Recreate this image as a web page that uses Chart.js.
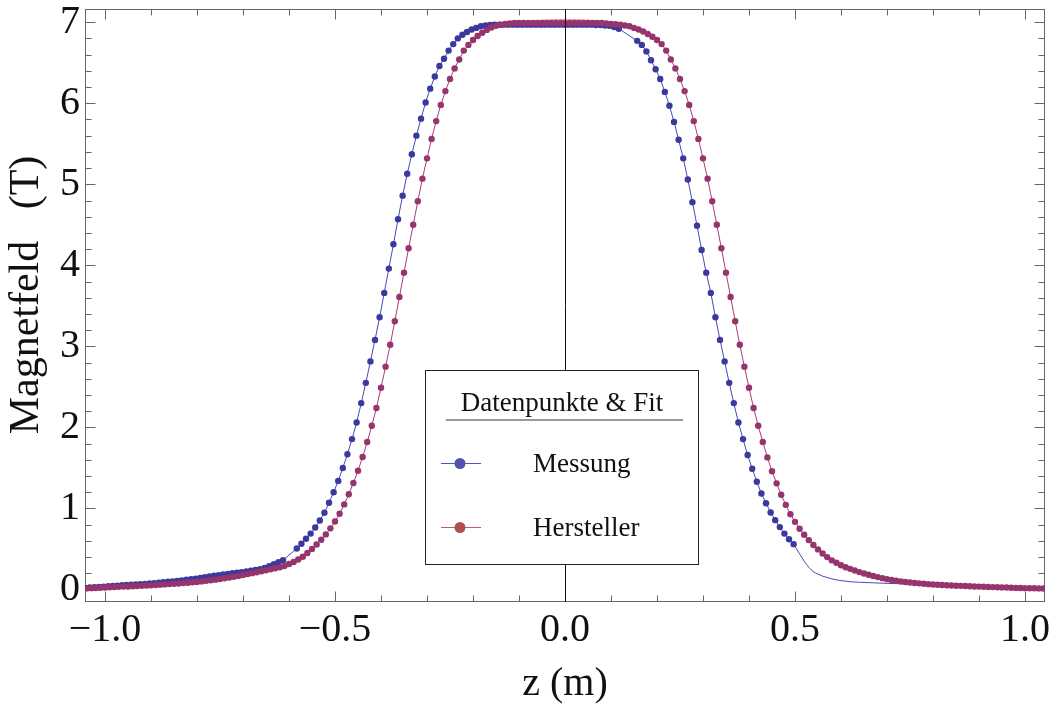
<!DOCTYPE html>
<html>
<head>
<meta charset="utf-8">
<script src="https://cdn.jsdelivr.net/npm/chart.js@4.4.1/dist/chart.umd.min.js"></script>
<style>
  html, body { margin: 0; padding: 0; background: #fff; }
  #chart { display: block; }
</style>
</head>
<body>
<canvas id="chart" width="1052" height="705"></canvas>
<script>
// Hersteller: Datenpunkte alle 1 cm
const herstellerZ = [
  -1.04,-1.03,-1.02,-1.01,-1.00,-0.99,-0.98,-0.97,-0.96,-0.95,
  -0.94,-0.93,-0.92,-0.91,-0.90,-0.89,-0.88,-0.87,-0.86,-0.85,
  -0.84,-0.83,-0.82,-0.81,-0.80,-0.79,-0.78,-0.77,-0.76,-0.75,
  -0.74,-0.73,-0.72,-0.71,-0.70,-0.69,-0.68,-0.67,-0.66,-0.65,
  -0.64,-0.63,-0.62,-0.61,-0.60,-0.59,-0.58,-0.57,-0.56,-0.55,
  -0.54,-0.53,-0.52,-0.51,-0.50,-0.49,-0.48,-0.47,-0.46,-0.45,
  -0.44,-0.43,-0.42,-0.41,-0.40,-0.39,-0.38,-0.37,-0.36,-0.35,
  -0.34,-0.33,-0.32,-0.31,-0.30,-0.29,-0.28,-0.27,-0.26,-0.25,
  -0.24,-0.23,-0.22,-0.21,-0.20,-0.19,-0.18,-0.17,-0.16,-0.15,
  -0.14,-0.13,-0.12,-0.11,-0.10,-0.09,-0.08,-0.07,-0.06,-0.05,
  -0.04,-0.03,-0.02,-0.01,
  0.00,0.01,0.02,0.03,0.04,0.05,0.06,0.07,0.08,0.09,
  0.10,0.11,0.12,0.13,0.14,0.15,0.16,0.17,0.18,0.19,
  0.20,0.21,0.22,0.23,0.24,0.25,0.26,0.27,0.28,0.29,
  0.30,0.31,0.32,0.33,0.34,0.35,0.36,0.37,0.38,0.39,
  0.40,0.41,0.42,0.43,0.44,0.45,0.46,0.47,0.48,0.49,
  0.50,0.51,0.52,0.53,0.54,0.55,0.56,0.57,0.58,0.59,
  0.60,0.61,0.62,0.63,0.64,0.65,0.66,0.67,0.68,0.69,
  0.70,0.71,0.72,0.73,0.74,0.75,0.76,0.77,0.78,0.79,
  0.80,0.81,0.82,0.83,0.84,0.85,0.86,0.87,0.88,0.89,
  0.90,0.91,0.92,0.93,0.94,0.95,0.96,0.97,0.98,0.99,
  1.00,1.01,1.02,1.03,1.04
];
const herstellerB = [
  0.014,0.017,0.019,0.022,0.025,0.028,0.031,0.033,0.036,0.038,
  0.041,0.044,0.047,0.050,0.053,0.056,0.060,0.063,0.067,0.071,
  0.075,0.079,0.084,0.089,0.094,0.100,0.107,0.114,0.122,0.130,
  0.139,0.148,0.158,0.167,0.178,0.190,0.202,0.214,0.226,0.238,
  0.250,0.262,0.275,0.290,0.315,0.340,0.370,0.405,0.450,0.500,
  0.555,0.615,0.680,0.755,0.840,0.935,1.050,1.175,1.315,1.465,
  1.635,1.820,2.020,2.240,2.490,2.750,3.020,3.310,3.610,3.910,
  4.210,4.500,4.790,5.070,5.320,5.560,5.780,5.980,6.150,6.300,
  6.430,6.540,6.650,6.720,6.780,6.830,6.870,6.905,6.935,6.955,
  6.970,6.980,6.985,6.990,6.990,6.990,6.990,6.990,6.990,6.990,
  6.990,6.990,6.990,6.990,
  6.990,6.990,6.990,6.990,6.990,6.990,6.990,6.990,6.990,6.985,
  6.980,6.975,6.970,6.960,6.950,6.930,6.910,6.885,6.855,6.820,
  6.780,6.730,6.650,6.540,6.430,6.300,6.150,5.980,5.780,5.560,
  5.320,5.070,4.790,4.500,4.210,3.910,3.610,3.310,3.020,2.750,
  2.490,2.240,2.020,1.820,1.630,1.460,1.310,1.170,1.045,0.930,
  0.835,0.750,0.675,0.610,0.550,0.495,0.445,0.400,0.360,0.330,
  0.300,0.275,0.255,0.235,0.215,0.198,0.182,0.167,0.153,0.140,
  0.128,0.118,0.109,0.100,0.093,0.087,0.081,0.076,0.071,0.066,
  0.062,0.059,0.056,0.053,0.050,0.047,0.045,0.043,0.040,0.038,
  0.036,0.034,0.032,0.030,0.028,0.026,0.024,0.022,0.020,0.019,
  0.017,0.016,0.015,0.014,0.013
];

// Messung: eigene Messpositionen, mit Luecken
const messungZ = [
  -1.043,-1.033,-1.023,-1.013,-1.003,-0.993,-0.983,-0.973,-0.963,-0.953,
  -0.943,-0.933,-0.923,-0.913,-0.903,-0.893,-0.883,-0.873,-0.863,-0.853,
  -0.843,-0.833,-0.823,-0.813,-0.803,-0.793,-0.783,-0.773,-0.763,-0.753,
  -0.743,-0.733,-0.723,-0.713,-0.703,-0.693,-0.683,-0.673,-0.663,-0.653,
  -0.643,-0.633,-0.623,-0.613,
  -0.583,-0.573,-0.563,-0.553,-0.543,-0.533,-0.523,-0.513,-0.503,-0.493,
  -0.483,-0.473,-0.463,-0.453,-0.443,-0.433,-0.423,-0.413,-0.403,-0.393,
  -0.383,-0.373,-0.363,-0.353,-0.343,-0.333,-0.323,-0.313,-0.303,-0.293,
  -0.283,-0.273,-0.263,-0.253,-0.243,-0.233,-0.223,-0.213,-0.203,-0.193,
  -0.183,-0.173,-0.163,-0.153,-0.143,-0.133,-0.123,-0.113,-0.103,-0.093,
  -0.083,-0.073,-0.063,-0.053,-0.043,-0.033,-0.023,-0.013,-0.003,0.007,
  0.017,0.027,0.037,0.047,0.057,0.067,0.077,0.087,0.097,0.107,
  0.117,
  0.157,0.167,0.177,0.187,0.197,0.207,0.217,0.227,0.237,0.247,
  0.257,0.267,0.277,0.287,0.297,0.307,0.317,0.327,0.337,0.347,
  0.357,0.367,0.377,0.387,0.397,0.407,0.417,0.427,0.437,0.447,
  0.457,0.467,0.477,0.487,0.497
];
const messungB = [
  0.020,0.024,0.028,0.032,0.036,0.040,0.044,0.048,0.052,0.056,
  0.059,0.063,0.066,0.070,0.074,0.079,0.084,0.089,0.095,0.101,
  0.107,0.113,0.120,0.127,0.135,0.143,0.152,0.161,0.170,0.178,
  0.185,0.193,0.200,0.208,0.215,0.223,0.232,0.242,0.252,0.266,
  0.288,0.312,0.336,0.362,
  0.506,0.564,0.626,0.690,0.765,0.852,0.947,1.070,1.200,1.340,
  1.500,1.670,1.856,2.060,2.300,2.550,2.815,3.080,3.360,3.660,
  3.960,4.260,4.570,4.860,5.130,5.370,5.600,5.810,6.010,6.180,
  6.330,6.460,6.550,6.650,6.730,6.800,6.845,6.880,6.910,6.930,
  6.950,6.960,6.965,6.970,6.970,6.970,6.970,6.970,6.970,6.970,
  6.970,6.970,6.970,6.970,6.970,6.970,6.970,6.970,6.970,6.970,
  6.970,6.970,6.970,6.970,6.970,6.965,6.965,6.960,6.955,6.940,
  6.920,
  6.770,6.720,6.640,6.530,6.420,6.300,6.140,5.970,5.770,5.550,
  5.320,5.060,4.780,4.490,4.190,3.910,3.660,3.360,3.080,2.815,
  2.550,2.300,2.060,1.856,1.660,1.490,1.330,1.185,1.065,0.950,
  0.856,0.770,0.690,0.620,0.560
];

// Fitkurven, wo sie von den Punkten abweichen
const messungFitZ = [0.497,0.51,0.52,0.53,0.54,0.55,0.56,0.57,0.58,0.60,0.62,0.66,0.70,0.75,0.80,0.85,0.90,0.95,1.00,1.044];
const messungFitB = [0.560,0.440,0.350,0.275,0.220,0.190,0.165,0.148,0.132,0.110,0.096,0.085,0.076,0.068,0.060,0.050,0.040,0.030,0.022,0.016];
const herstellerFitZ = [-0.14,-0.10,-0.06,-0.03,0.00,0.03,0.06,0.10,0.14];
const herstellerFitB = [6.970,7.000,7.020,7.030,7.035,7.030,7.020,7.000,6.970];

const seriesNames = ['Messung', 'Hersteller'];
const legendTitle = 'Datenpunkte & Fit';
const xTicks = [-1.0, -0.5, 0.0, 0.5, 1.0];
const yTicks = [0, 1, 2, 3, 4, 5, 6, 7];

const SERIF = "'Liberation Serif', 'Times New Roman', serif";
const BLUE = 'rgb(58,58,158)';
const BLUE_LINE = 'rgb(72,72,178)';
const RED = 'rgb(150,52,110)';
const RED_LINE = 'rgb(165,62,118)';

function toPoints(xs, ys) { return xs.map((x, i) => ({ x: x, y: ys[i] })); }

const xMinor = [];
for (let i = -10; i <= 10; i++) xMinor.push(i / 10);
const yMinor = [];
for (let i = 0; i <= 35; i++) yMinor.push(i / 5);

const framePlugin = {
  id: 'frame',
  beforeDatasetsDraw(chart) {
    const { ctx, chartArea: a, scales } = chart;
    const L = Math.round(a.left) + 0.5, R = Math.round(a.right) - 0.5;
    const T = Math.round(a.top) + 0.5, B = Math.round(a.bottom) - 0.5;
    ctx.save();
    ctx.strokeStyle = '#666';
    ctx.lineWidth = 1;
    ctx.strokeRect(L, T, R - L, B - T);
    ctx.beginPath();
    xMinor.forEach(v => {
      const px = Math.round(scales.x.getPixelForValue(v)) + 0.5;
      const len = xTicks.some(t => Math.abs(t - v) < 1e-6) ? 10 : 6;
      ctx.moveTo(px, B); ctx.lineTo(px, B - len);
      ctx.moveTo(px, T); ctx.lineTo(px, T + len);
    });
    yMinor.forEach(v => {
      const py = Math.round(scales.y.getPixelForValue(v)) + 0.5;
      const len = yTicks.some(t => Math.abs(t - v) < 1e-6) ? 10 : 6;
      ctx.moveTo(L, py); ctx.lineTo(L + len, py);
      ctx.moveTo(R, py); ctx.lineTo(R - len, py);
    });
    ctx.stroke();
    ctx.restore();
  },
  afterDatasetsDraw(chart) {
    const { ctx, chartArea: a, scales } = chart;
    ctx.save();
    // Achse bei z = 0
    const x0 = Math.round(scales.x.getPixelForValue(0)) + 0.5;
    ctx.strokeStyle = '#111';
    ctx.lineWidth = 1;
    ctx.beginPath();
    ctx.moveTo(x0, a.top); ctx.lineTo(x0, a.bottom);
    ctx.stroke();

    // Legende
    ctx.fillStyle = '#fff';
    ctx.fillRect(426, 371, 272, 193);
    ctx.strokeStyle = '#222';
    ctx.strokeRect(425.5, 370.5, 273, 194);
    ctx.fillStyle = '#111';
    ctx.font = '27px ' + SERIF;
    ctx.textAlign = 'center';
    ctx.textBaseline = 'alphabetic';
    ctx.fillText(legendTitle, 562, 411);
    ctx.strokeStyle = '#777';
    ctx.lineWidth = 1.5;
    ctx.beginPath();
    ctx.moveTo(446, 420); ctx.lineTo(683, 420);
    ctx.stroke();

    const rows = [
      { name: seriesNames[0], y: 463, line: 'rgb(85,85,180)', dot: 'rgb(82,82,176)' },
      { name: seriesNames[1], y: 527, line: 'rgb(180,95,115)', dot: 'rgb(176,80,82)' }
    ];
    rows.forEach(r => {
      ctx.strokeStyle = r.line;
      ctx.lineWidth = 1;
      ctx.beginPath();
      ctx.moveTo(441, r.y + 0.5); ctx.lineTo(481, r.y + 0.5);
      ctx.stroke();
      ctx.fillStyle = r.dot;
      ctx.beginPath();
      ctx.arc(460, r.y + 0.5, 5.5, 0, Math.PI * 2);
      ctx.fill();
      ctx.fillStyle = '#111';
      ctx.textAlign = 'left';
      ctx.fillText(r.name, 533, r.y + 8.5);
    });
    ctx.restore();
  }
};

new Chart(document.getElementById('chart').getContext('2d'), {
  type: 'scatter',
  data: {
    datasets: [
      {
        label: seriesNames[1],
        data: toPoints(herstellerZ, herstellerB),
        showLine: true,
        borderColor: RED_LINE,
        borderWidth: 1,
        pointBackgroundColor: RED,
        pointBorderWidth: 0,
        pointRadius: 3.2,
        order: 1
      },
      {
        label: seriesNames[1] + ' Fit',
        data: toPoints(herstellerFitZ, herstellerFitB),
        showLine: true,
        borderColor: 'rgba(190,110,150,0.55)',
        borderWidth: 1.2,
        pointRadius: 0,
        tension: 0.4,
        order: 2
      },
      {
        label: seriesNames[0],
        data: toPoints(messungZ, messungB),
        showLine: true,
        borderColor: BLUE_LINE,
        borderWidth: 1,
        pointBackgroundColor: BLUE,
        pointBorderWidth: 0,
        pointRadius: 3.2,
        order: 3
      },
      {
        label: seriesNames[0] + ' Fit',
        data: toPoints(messungFitZ, messungFitB),
        showLine: true,
        borderColor: BLUE_LINE,
        borderWidth: 1,
        pointRadius: 0,
        cubicInterpolationMode: 'monotone',
        order: 4
      }
    ]
  },
  options: {
    responsive: false,
    animation: false,
    layout: { padding: { top: 9, right: 7, left: 0, bottom: 0 } },
    plugins: {
      legend: { display: false },
      tooltip: { enabled: false }
    },
    scales: {
      x: {
        type: 'linear',
        min: -1.0435,
        max: 1.0435,
        afterBuildTicks: s => { s.ticks = xTicks.map(v => ({ value: v })); },
        afterFit: s => { s.height = 103; s.paddingLeft = 0; s.paddingRight = 0; },
        grid: { display: false, drawTicks: false },
        border: { display: false },
        ticks: {
          padding: 4,
          color: '#111',
          font: { family: SERIF, size: 40 },
          maxRotation: 0,
          callback: v => (v < 0 ? '\u2212' + Math.abs(v).toFixed(1) : v.toFixed(1))
        },
        title: {
          display: true,
          text: 'z (m)',
          color: '#111',
          font: { family: SERIF, size: 40, lineHeight: 1.05 },
          padding: { top: 0, bottom: 0 }
        }
      },
      y: {
        min: -0.154,
        max: 7.163,
        afterBuildTicks: s => { s.ticks = yTicks.map(v => ({ value: v })); },
        afterFit: s => { s.width = 85; s.paddingTop = 0; s.paddingBottom = 0; },
        grid: { display: false, drawTicks: false },
        border: { display: false },
        ticks: {
          padding: 5,
          color: '#111',
          font: { family: SERIF, size: 40 },
          callback: v => String(v)
        },
        title: {
          display: true,
          text: '  Magnetfeld   (T)',
          color: '#111',
          font: { family: SERIF, size: 42, lineHeight: 1.2 },
          padding: { top: 2, bottom: 0 }
        }
      }
    }
  },
  plugins: [framePlugin]
});
</script>
</body>
</html>
